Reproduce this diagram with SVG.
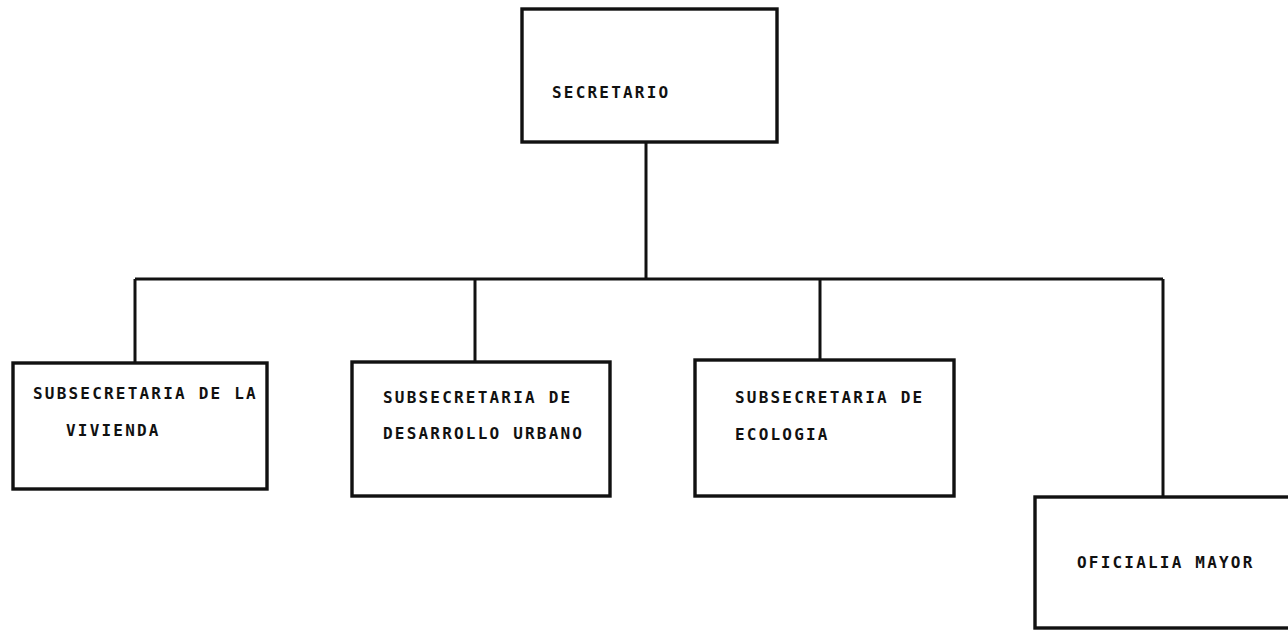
<svg xmlns="http://www.w3.org/2000/svg" width="1288" height="632" viewBox="0 0 1288 632">
  <style>
    .box { fill: #ffffff; stroke: #111111; stroke-width: 3.4; }
    .wire { fill: none; stroke: #111111; stroke-width: 3; }
    .lbl { font-family: "DejaVu Sans Mono", "Liberation Mono", monospace; font-size: 16px; font-weight: bold; letter-spacing: 2.2px; fill: #111111; }
  </style>
  <rect width="1288" height="632" fill="#ffffff"/>

  <!-- connectors: trunk from the secretary, bus bar, and drops to each unit -->
  <g id="connectors">
    <path class="wire" d="M646 142 V279"/>
    <path class="wire" d="M135 279 H1163"/>
    <path class="wire" d="M135 279 V363"/>
    <path class="wire" d="M475 279 V362"/>
    <path class="wire" d="M820 279 V360"/>
    <path class="wire" d="M1163 279 V497"/>
  </g>

  <g id="secretario">
    <rect class="box" x="522" y="9" width="255" height="133"/>
    <text class="lbl" x="552" y="98">SECRETARIO</text>
  </g>

  <g id="subsecretaria-vivienda">
    <rect class="box" x="13" y="363" width="254" height="126"/>
    <text class="lbl" x="33" y="399">SUBSECRETARIA DE LA</text>
    <text class="lbl" x="66" y="436">VIVIENDA</text>
  </g>

  <g id="subsecretaria-desarrollo-urbano">
    <rect class="box" x="352" y="362" width="258" height="134"/>
    <text class="lbl" x="383" y="403">SUBSECRETARIA DE</text>
    <text class="lbl" x="383" y="439">DESARROLLO URBANO</text>
  </g>

  <g id="subsecretaria-ecologia">
    <rect class="box" x="695" y="360" width="259" height="136"/>
    <text class="lbl" x="735" y="403">SUBSECRETARIA DE</text>
    <text class="lbl" x="735" y="440">ECOLOGIA</text>
  </g>

  <g id="oficialia-mayor">
    <rect class="box" x="1035" y="497" width="262" height="131"/>
    <text class="lbl" x="1077" y="568">OFICIALIA MAYOR</text>
  </g>
</svg>
